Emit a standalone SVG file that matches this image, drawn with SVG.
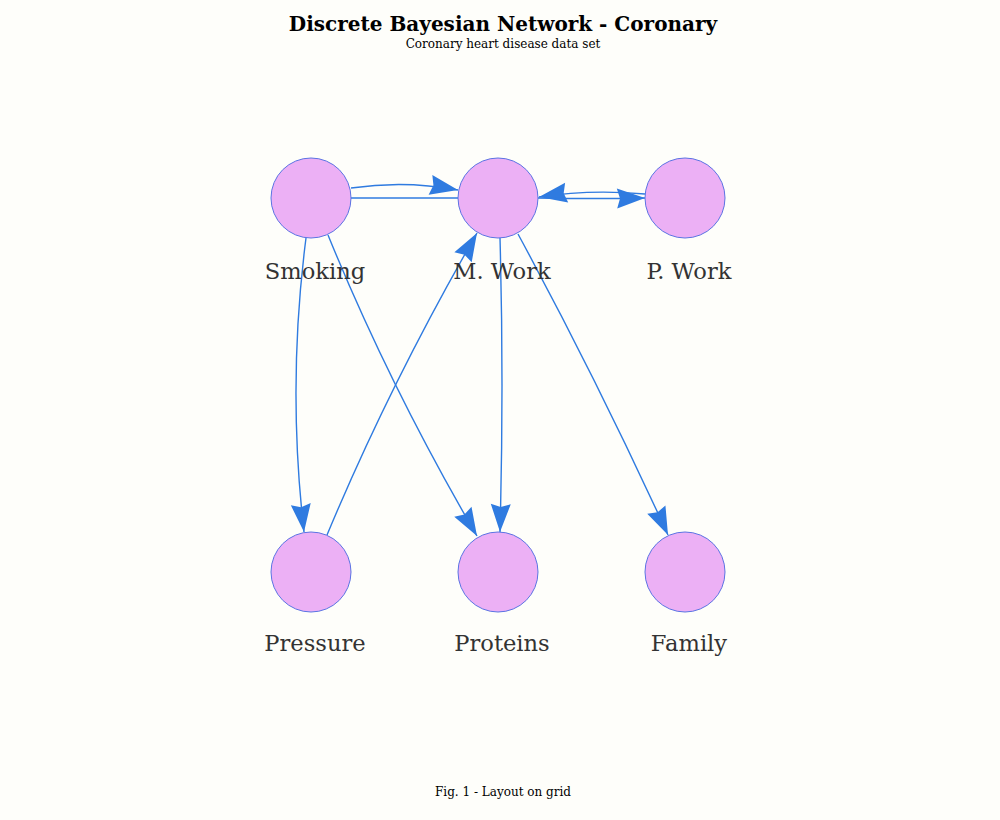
<svg xmlns="http://www.w3.org/2000/svg" width="1000" height="820" viewBox="0 0 1000 820">
<style>
.bg{fill:#fefefa}
.node circle{fill:#ecb0f5;stroke:#5b73e3;stroke-width:1}
.node text{font-family:"DejaVu Serif",serif;font-size:22.6px;fill:#333333;text-anchor:middle}
.edge{fill:none;stroke:#2f7be0;stroke-width:1.4}
.title{font-family:"DejaVu Serif",serif;font-size:20px;font-weight:bold;fill:#000;text-anchor:middle}
.sub{font-family:"DejaVu Serif",serif;font-size:12px;fill:#000;text-anchor:middle}
</style>
<defs>
<marker id="arr" markerUnits="userSpaceOnUse" markerWidth="30" markerHeight="22" refX="28" refY="10" orient="auto" overflow="visible">
<path d="M28,10 L0,0 L3,10 L0,20 Z" fill="#2f7be0"/>
</marker>
</defs>
<rect class="bg" x="0" y="0" width="1000" height="820"/>
<text class="title" x="503" y="31">Discrete Bayesian Network - Coronary</text>
<text class="sub" x="503" y="48">Coronary heart disease data set</text>
<g id="connectors">
<path class="edge" d="M351,188 Q405,180 458,190" marker-end="url(#arr)"/>
<path class="edge" d="M351,198 L458,198"/>
<path class="edge" d="M645,194 Q590,189 539,197" marker-end="url(#arr)"/>
<path class="edge" d="M538,198 Q592,199 645,198" marker-end="url(#arr)"/>
<path class="edge" d="M306,238 Q287,385 304,532" marker-end="url(#arr)"/>
<path class="edge" d="M328,235 Q390,387 477,536" marker-end="url(#arr)"/>
<path class="edge" d="M327,535 Q390,384 477,233" marker-end="url(#arr)"/>
<path class="edge" d="M500,238 Q504,385 500,532" marker-end="url(#arr)"/>
<path class="edge" d="M518,234 Q597,380 668,535" marker-end="url(#arr)"/>
</g>
<g id="smoking" class="node"><circle cx="311" cy="198" r="40"/><text x="315" y="279">Smoking</text></g>
<g id="mwork" class="node"><circle cx="498" cy="198" r="40"/><text x="502" y="279">M. Work</text></g>
<g id="pwork" class="node"><circle cx="685" cy="198" r="40"/><text x="689" y="279">P. Work</text></g>
<g id="pressure" class="node"><circle cx="311" cy="572" r="40"/><text x="315" y="651">Pressure</text></g>
<g id="proteins" class="node"><circle cx="498" cy="572" r="40"/><text x="502" y="651">Proteins</text></g>
<g id="family" class="node"><circle cx="685" cy="572" r="40"/><text x="689" y="651">Family</text></g>
<text class="sub" x="503" y="796">Fig. 1 - Layout on grid</text>
</svg>
